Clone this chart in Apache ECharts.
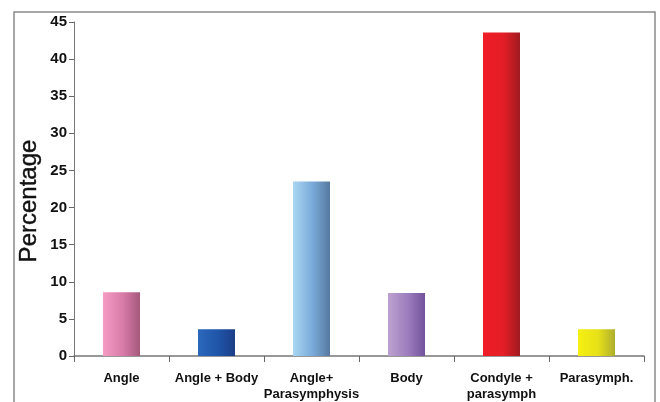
<!DOCTYPE html>
<html><head><meta charset="utf-8">
<script src="https://cdn.jsdelivr.net/npm/echarts@6/dist/echarts.min.js"></script>
<style>html,body{margin:0;padding:0;background:#fff}#c{width:660px;height:402px}</style>
</head><body><div id="c"></div>
<script>
const categories = ['Angle', 'Angle + Body', 'Angle+\nParasymphysis', 'Body', 'Condyle +\nparasymph', 'Parasymph.'];
const values = [8.6, 3.6, 23.5, 8.5, 43.6, 3.6];
const colorStops = [
  ['#f59cc4', '#d77aa8', '#a5587c'],
  ['#2b68bc', '#1f55a8', '#1b3d88'],
  ['#a9d6f2', '#78a8d8', '#56799e'],
  ['#bda2d0', '#9c7cbc', '#72529c'],
  ['#ef1d26', '#e41d26', '#a01b20'],
  ['#f6f012', '#e6e018', '#aeae30']
];
const yTicks = [0, 5, 10, 15, 20, 25, 30, 35, 40, 45];
const yTitle = 'Percentage';

const chart = echarts.init(document.getElementById('c'));
chart.setOption({
  animation: false,
  backgroundColor: '#fff',
  graphic: [{
    type: 'rect', shape: {x: 14, y: 12, width: 641, height: 400},
    style: {fill: 'none', stroke: '#8a8a8a', lineWidth: 1.5}, silent: true
  }, {
    type: 'text', x: 29, y: 201, rotation: Math.PI / 2,
    style: {text: yTitle, fontFamily: 'Liberation Sans, Arial', fontSize: 24, fill: '#111',
      align: 'center', verticalAlign: 'middle', stroke: '#111', lineWidth: 0.4}
  }],
  grid: {left: 74, top: 22, right: 16, bottom: 46, outerBoundsMode: 'none', containLabel: false},
  xAxis: {
    type: 'category', data: categories,
    axisLine: {lineStyle: {color: '#777', width: 1.5}},
    axisTick: {show: true, length: 6, lineStyle: {color: '#666'}},
    axisLabel: {color: '#111', fontFamily: 'Liberation Sans Narrow, Arial Narrow, Liberation Sans, Arial', fontWeight: 'bold', fontSize: 13, margin: 14, lineHeight: 16, interval: 0}
  },
  yAxis: {
    type: 'value', min: yTicks[0], max: yTicks[yTicks.length - 1], interval: 5,
    axisLine: {show: true, lineStyle: {color: '#777', width: 1}},
    axisTick: {show: true, length: 5, lineStyle: {color: '#666'}},
    axisLabel: {color: '#111', fontFamily: 'Liberation Sans, Arial', fontWeight: 'bold', fontSize: 15, margin: 7},
    splitLine: {show: false}
  },
  series: [{
    type: 'bar', barWidth: 37,
    data: values.map((v, i) => ({
      value: v,
      itemStyle: {
        color: new echarts.graphic.LinearGradient(0, 0, 1, 0, [
          {offset: 0, color: colorStops[i][0]},
          {offset: 0.55, color: colorStops[i][1]},
          {offset: 1, color: colorStops[i][2]}
        ])
      }
    }))
  }]
});
</script></body></html>
